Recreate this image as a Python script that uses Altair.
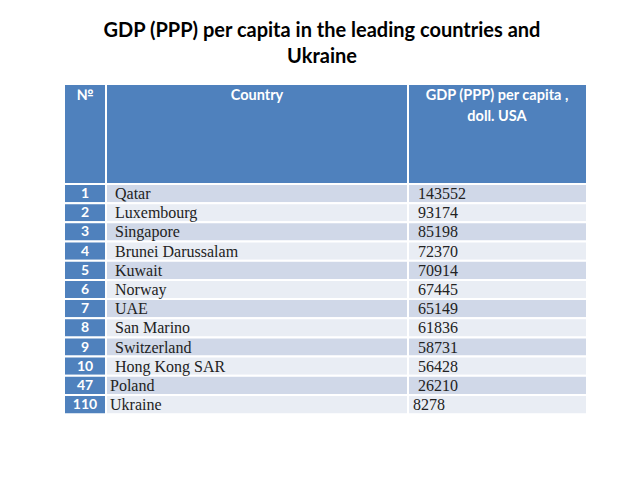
import altair as alt
import pandas as pd

# ---- data ----
ranks = ["1", "2", "3", "4", "5", "6", "7", "8", "9", "10", "47", "110"]
countries = ["Qatar", "Luxembourg", "Singapore", "Brunei Darussalam", "Kuwait", "Norway",
             "UAE", "San Marino", "Switzerland", "Hong Kong SAR", "Poland", "Ukraine"]
gdp = [143552, 93174, 85198, 72370, 70914, 67445, 65149, 61836, 58731, 56428, 26210, 8278]
header_labels = ["№", "Country", "GDP (PPP) per capita ,", "doll. USA"]
title_lines = ["GDP (PPP) per capita in the leading countries and", "Ukraine"]

# ---- layout (page pixel coordinates) ----
col_edges = [64, 106, 408, 587]
head_top, head_bot = 84, 184
row_top, row_h = 184, 19.18
BLUE = "#4F81BD"
ODD = "#D0D8E8"
EVEN = "#E9EDF4"
country_indent = [1] * 10 + [0, 0]
gdp_indent = [1] * 11 + [0]

cells = []
for c in range(3):
    cells.append(dict(x=col_edges[c], x2=col_edges[c + 1], y=head_top, y2=head_bot, fill=BLUE))
for i in range(len(ranks)):
    y1 = row_top + i * row_h
    y2 = y1 + row_h
    band = ODD if i % 2 == 0 else EVEN
    cells.append(dict(x=col_edges[0], x2=col_edges[1], y=y1, y2=y2, fill=BLUE))
    cells.append(dict(x=col_edges[1], x2=col_edges[2], y=y1, y2=y2, fill=band))
    cells.append(dict(x=col_edges[2], x2=col_edges[3], y=y1, y2=y2, fill=band))
cells_df = pd.DataFrame(cells)

body = pd.DataFrame({"rank": ranks, "country": countries, "gdp": [str(v) for v in gdp]})
body["i"] = range(len(body))
body["yc"] = row_top + (body["i"] + 0.5) * row_h + 0.5
body["ci"] = country_indent
body["gi"] = gdp_indent

xs = alt.Scale(domain=[8, 632], range=[0, 624])
ys = alt.Scale(domain=[8, 472], range=[0, 464])

base = alt.Chart(cells_df)
rects = base.mark_rect(stroke="white", strokeWidth=2).encode(
    x=alt.X("x:Q", scale=xs, axis=None),
    x2="x2:Q",
    y=alt.Y("y:Q", scale=ys, axis=None),
    y2="y2:Q",
    fill=alt.Color("fill:N", scale=None),
)

bt = alt.Chart(body)
rank_text = bt.mark_text(font="Lato", fontWeight="bold", fontSize=14, color="white",
                         baseline="middle", align="center").encode(
    x=alt.value(85 - 8), y=alt.Y("yc:Q", scale=ys, axis=None), text="rank:N")
country_text = bt.transform_calculate(xp="110 + datum.ci*5").mark_text(
    font="Liberation Serif", fontSize=16, color="#222222", baseline="middle", align="left").encode(
    x=alt.X("xp:Q", scale=xs, axis=None), y=alt.Y("yc:Q", scale=ys, axis=None), text="country:N")
gdp_text = bt.transform_calculate(xp="413 + datum.gi*5").mark_text(
    font="Liberation Serif", fontSize=16, color="#222222", baseline="middle", align="left").encode(
    x=alt.X("xp:Q", scale=xs, axis=None), y=alt.Y("yc:Q", scale=ys, axis=None), text="gdp:N")

head_df = pd.DataFrame({"label": header_labels,
                        "xc": [85, 257, 497, 497],
                        "yc": [96, 96, 96, 117]})
head_text = alt.Chart(head_df).mark_text(font="Lato", fontWeight="bold", fontSize=14.5, color="white",
                                         baseline="middle", align="center").encode(
    x=alt.X("xc:Q", scale=xs, axis=None), y=alt.Y("yc:Q", scale=ys, axis=None), text="label:N")

title_df = pd.DataFrame({"label": title_lines, "xc": [322, 322], "yc": [31, 57]})
title_text = alt.Chart(title_df).mark_text(font="Lato", fontWeight="bold", fontSize=20, color="black",
                                           baseline="middle", align="center").encode(
    x=alt.X("xc:Q", scale=xs, axis=None), y=alt.Y("yc:Q", scale=ys, axis=None), text="label:N")

chart = alt.layer(rects, rank_text, country_text, gdp_text, head_text, title_text).properties(
    width=624, height=464, autosize=alt.AutoSizeParams(type="none"), padding=0,
    background="white"
).configure_view(stroke=None)

chart.save("out.html", embed_options={"renderer": "svg", "actions": False})
